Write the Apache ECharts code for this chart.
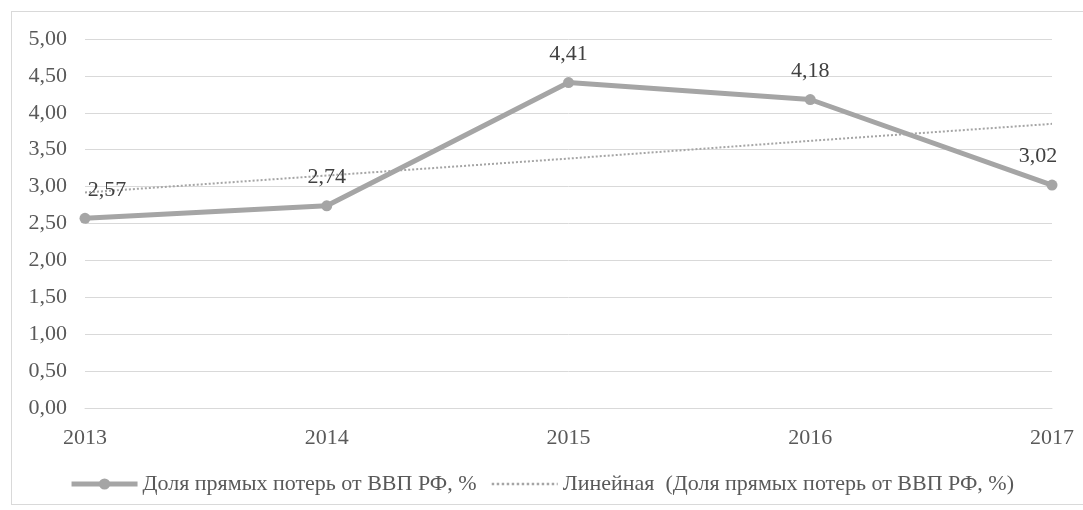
<!DOCTYPE html>
<html>
<head>
<meta charset="utf-8">
<script src="https://cdn.jsdelivr.net/npm/echarts@6/dist/echarts.min.js"></script>
<style>
  html, body { margin: 0; padding: 0; background: #fff; }
  #frame {
    position: absolute; left: 11px; top: 11px; width: 1080px; height: 494px;
    border: 1px solid #d9d9d9; box-sizing: border-box;
  }
  #chart { width: 1083px; height: 510px; position: absolute; left: 0; top: 0; }
</style>
</head>
<body>
<div id="frame"></div>
<div id="chart"></div>
<script>
const years = ['2013', '2014', '2015', '2016', '2017']
const lossShare = [2.57, 2.74, 4.41, 4.18, 3.02]
// linear trend
const trendValues = [2.92, 3.15, 3.38, 3.62, 3.85]
const seriesName = 'Доля прямых потерь от ВВП РФ, %'
const trendName = 'Линейная  (Доля прямых потерь от ВВП РФ, %)'

const font = 'Liberation Serif, Times New Roman, serif'
const fmt = v => v.toFixed(2).replace('.', ',')

const chart = echarts.init(document.getElementById('chart'))

chart.setOption({
  animation: false,
  grid: { left: 85, right: 31, top: 39, bottom: 102 },
  legend: {
    bottom: 10,
    left: 'center',
    itemWidth: 66,
    itemHeight: 14,
    itemGap: 14,
    textStyle: { fontFamily: font, fontSize: 22, color: '#595959' },
    data: [
      { name: seriesName, lineStyle: { width: 5 } },
      { name: trendName, itemStyle: { opacity: 0 }, lineStyle: { width: 2.5, type: 'dotted' } }
    ]
  },
  xAxis: {
    type: 'category',
    data: years,
    boundaryGap: false,
    axisLine: { lineStyle: { color: '#d9d9d9' } },
    axisTick: { show: false },
    axisLabel: { fontFamily: font, fontSize: 22, color: '#595959', margin: 19 }
  },
  yAxis: {
    type: 'value',
    min: 0,
    max: 5,
    interval: 0.5,
    axisLine: { show: false },
    axisTick: { show: false },
    splitLine: { lineStyle: { color: '#d9d9d9' } },
    axisLabel: {
      fontFamily: font, fontSize: 22, color: '#595959', margin: 18,
      formatter: fmt
    }
  },
  series: [
    {
      name: trendName,
      type: 'line',
      data: trendValues,
      symbol: 'none',
      z: 1,
      lineStyle: { color: '#a5a5a5', width: 2, type: 'dotted' },
      itemStyle: { color: '#a5a5a5' }
    },
    {
      name: seriesName,
      type: 'line',
      data: lossShare.map((v, i) => {
        const item = { value: v }
        if (i === 0) item.label = { offset: [22, 0] }
        if (i === lossShare.length - 1) item.label = { offset: [-14, 0] }
        return item
      }),
      symbol: 'circle',
      symbolSize: 11,
      z: 2,
      lineStyle: { color: '#a5a5a5', width: 5 },
      itemStyle: { color: '#a5a5a5' },
      label: {
        show: true,
        position: 'top',
        distance: 12,
        fontFamily: font,
        fontSize: 22,
        color: '#404040',
        formatter: p => fmt(p.value)
      }
    }
  ]
})
</script>
</body>
</html>
